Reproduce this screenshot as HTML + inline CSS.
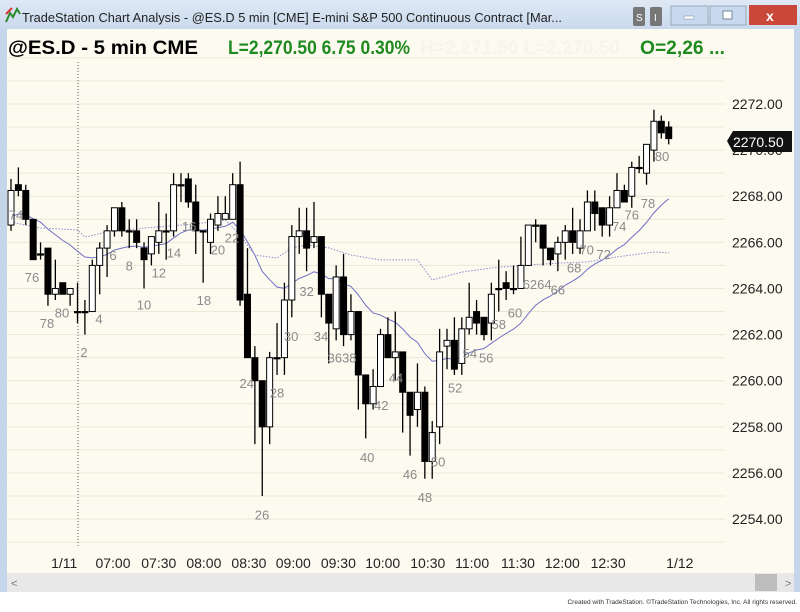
<!DOCTYPE html>
<html><head><meta charset="utf-8"><style>
body{margin:0;width:800px;height:607px;overflow:hidden;background:#fff;font-family:"Liberation Sans",sans-serif}
</style></head><body>
<svg id="c" width="800" height="607" viewBox="0 0 800 607" font-family="Liberation Sans, sans-serif">
<defs><linearGradient id="tb" x1="0" y1="0" x2="0" y2="1"><stop offset="0" stop-color="#dfe9f5"/><stop offset="1" stop-color="#c9d9ec"/></linearGradient></defs>
<rect x="0" y="0" width="800" height="607" fill="#c5d6ea"/>
<rect x="0" y="0" width="800" height="29" fill="url(#tb)"/>
<path d="M6 22 L10 13 L13 17 L17 9 L20 14" stroke="#2b8a2b" stroke-width="2" fill="none"/><path d="M6 14 L12 8" stroke="#d33" stroke-width="2"/>
<text x="22" y="22" font-size="13" fill="#222" textLength="540" lengthAdjust="spacingAndGlyphs">TradeStation Chart Analysis - @ES.D 5 min [CME] E-mini S&amp;P 500 Continuous Contract [Mar...</text>
<rect x="633" y="7" width="12" height="19" fill="#777" rx="2"/><text x="636" y="21" font-size="10" fill="#fff">S</text>
<rect x="650" y="7" width="12" height="19" fill="#777" rx="2"/><text x="654" y="21" font-size="10" fill="#fff">I</text>
<rect x="671" y="6" width="37" height="19" fill="#c7d9ee" stroke="#9ab"/><rect x="684" y="16" width="10" height="3" fill="#fff" stroke="#789" stroke-width=".5"/>
<rect x="710" y="6" width="36" height="19" fill="#c7d9ee" stroke="#9ab"/><rect x="723" y="11" width="9" height="8" fill="#fff" stroke="#789"/>
<rect x="749" y="5" width="48" height="20" fill="#c9483a"/><text x="766" y="21" font-size="14" font-weight="bold" fill="#fff">x</text>
<rect x="7" y="29" width="787" height="563" fill="#fdfbf0"/>
<text x="8" y="54" font-size="19" font-weight="bold" fill="#000" textLength="190" lengthAdjust="spacingAndGlyphs">@ES.D - 5 min  CME</text>
<text x="228" y="54" font-size="19" font-weight="bold" fill="#1f8a1f" textLength="182" lengthAdjust="spacingAndGlyphs">L=2,270.50  6.75  0.30%</text>
<text x="420" y="54" font-size="19" font-weight="bold" fill="#f7f5ea" textLength="200" lengthAdjust="spacingAndGlyphs">H=2,271.50  L=2,270.50</text>
<text x="640" y="54" font-size="19" font-weight="bold" fill="#1f8a1f" textLength="85" lengthAdjust="spacingAndGlyphs">O=2,26 ...</text>
<g id="grid"></g>
<line x1="78" y1="62" x2="78" y2="548" stroke="#555" stroke-dasharray="1,2"/>
<g id="yaxis"></g>
<g id="xaxis"></g>
<g id="ma"></g>
<g id="bars"></g>
<g id="lbls"></g>
<g><path d="M727 141 L733 131 H792 V152 H733 Z" fill="#111"/><text x="733" y="147" font-size="14" fill="#fff">2270.50</text></g>
<rect x="7" y="573" width="787" height="19" fill="#e8e8e8"/>
<text x="11" y="587" font-size="11" fill="#777">&lt;</text><rect x="755" y="574" width="22" height="17" fill="#bdbdbd"/><text x="785" y="587" font-size="11" fill="#777">&gt;</text>
<rect x="0" y="592" width="800" height="15" fill="#fff"/>
<text x="797" y="604" font-size="6.5" fill="#333" text-anchor="end">Created with TradeStation. ©TradeStation Technologies, Inc. All rights reserved.</text>
</svg>
<script>
const opens=[2266.75,2268.5,2268.25,2267,2265.5,2265.75,2263.75,2264.25,2263.75,2263,2263,2263,2265,2265.75,2266.5,2267.5,2266.5,2266.5,2265.75,2265.5,2266,2266.5,2266.5,2268.5,2268.75,2267.75,2266.5,2266,2266.75,2267,2267,2268.5,2263.75,2261,2260,2258,2261,2261,2263.5,2266.25,2266.5,2266,2266.25,2263.75,2262.25,2264.5,2262,2263,2260.25,2259,2259.75,2262,2261,2261.25,2259.5,2258.75,2259.5,2256.5,2258,2261.5,2261.75,2260.75,2262.25,2263,2262.75,2262.5,2264,2264.25,2264,2264,2265,2266.75,2266.75,2265.75,2265.5,2266,2266.5,2265.75,2266.5,2267.75,2267.5,2266.75,2267.5,2268.25,2268,2269.25,2269,2270,2271.25,2271];
const highs=[2268.75,2269.25,2268.5,2267,2266,2265.75,2265.25,2264.25,2264,2264.25,2263.5,2265.25,2266,2266.75,2267.5,2267.75,2267,2267,2266,2266.25,2267.75,2267.25,2269,2269,2269,2268.5,2266.5,2267.25,2268,2268,2269,2269.5,2265.75,2261.5,2260,2261.25,2262.5,2264.25,2266.75,2267.5,2267.5,2267.75,2266.25,2263.75,2265,2265.5,2263.75,2263,2260.25,2260.5,2262.25,2262.75,2263,2261.25,2259.5,2260.75,2259.75,2258.25,2262.25,2262.25,2262.75,2262.75,2264.25,2263.5,2262.75,2264.25,2265.25,2264.75,2265,2266.25,2266.75,2267,2266.75,2265.75,2266.25,2266.75,2267.5,2267,2268.25,2268.25,2267.5,2268,2269,2268.5,2269.5,2269.75,2270.25,2271.75,2271.5,2271.25];
const lows=[2266.5,2268,2266.75,2265.25,2265.25,2263.25,2263.5,2263.75,2263.25,2262.5,2262,2263,2263.75,2264.5,2266.25,2266.25,2265.75,2265.75,2264,2265,2265.5,2265.25,2266.25,2267.75,2267.5,2265.5,2264.25,2265.5,2266.5,2267,2267,2263.25,2261,2257.25,2255,2257.25,2260.25,2260.25,2262.75,2265.5,2264.75,2265.75,2262.75,2260.75,2261.75,2261.5,2261.75,2258.75,2257.5,2258.75,2259.75,2261,2260,2257.75,2256.75,2258,2255.75,2255.75,2257.25,2260.5,2260.25,2260.25,2262,2262,2261.75,2261.75,2263,2263.5,2263.75,2264,2265,2266,2265,2265,2264.75,2265.25,2265.5,2265.5,2266.5,2266.5,2266.25,2266.25,2267.5,2267.75,2267.5,2269,2268.5,2269.5,2270.5,2270.25];
const closes=[2268.25,2268.25,2267,2265.25,2265.5,2263.75,2264,2263.75,2264,2263,2263,2265,2265.75,2266.5,2267.5,2266.5,2266.5,2266,2265.25,2266.25,2266.5,2266.5,2268.5,2268.5,2267.75,2266.5,2266.5,2267,2267.25,2267.25,2268.5,2263.5,2261,2260,2258,2261,2261,2263.5,2266.25,2266.5,2265.75,2266.25,2263.75,2262.5,2264.5,2262,2263,2260.25,2259,2259.75,2262,2261,2261.25,2259.5,2258.5,2259.5,2256.5,2257.75,2261.25,2261.75,2260.5,2262.25,2262.75,2262.5,2262,2263.75,2264,2264,2264,2265,2266.75,2266.75,2265.75,2265.25,2266,2266.5,2266,2266.5,2267.75,2267.25,2266.75,2267.5,2268.25,2267.75,2269.25,2269.25,2270.25,2271.25,2270.75,2270.5];
const dotIdx=[0,4,9,10,13,18,25,29,31,33,36,38,40,43,46,50,55,57,61,65,70,74,78,82,87,89];
const dotVal=[2266.88,2266.62,2266.54,2266.23,2266.45,2266.62,2266.8,2266.97,2266.32,2265.45,2265.32,2265.76,2265.89,2265.76,2265.45,2265.24,2265.24,2264.37,2264.71,2264.89,2265.02,2265.1,2265.15,2265.37,2265.58,2265.54];
const priceTicks=[2272,2270,2268,2266,2264,2262,2260,2258,2256,2254];
const timeLabels=["1/11","07:00","07:30","08:00","08:30","09:00","09:30","10:00","10:30","11:00","11:30","12:00","12:30","1/12"];
const timeIdx=[7.2,13.8,20,26.1,32.2,38.2,44.3,50.3,56.4,62.4,68.6,74.6,80.8,90.5];
const lblText=["74","76","78","80","2","4","6","8","10","12","14","16","18","20","22","24","26","28","30","32","34","3638","40","42","44","46","48","50","52","54","56","58","60","6264","66","68","70","72","74","76","78","80"];
const lblIdx=[0.68,2.84,4.87,6.9,9.88,11.9,13.8,16,18,20,22.05,24.1,26.1,28,29.9,31.9,33.97,36,37.9,40,41.95,44.8,48.2,50.1,52.1,54,56,57.8,60.1,62.1,64.3,66,68.2,71.2,74,76.2,77.9,80.2,82.3,84,86.2,88.1];
const lblPrice=[2267.2,2264.5,2262.5,2262.95,2261.25,2262.7,2265.45,2265,2263.3,2264.7,2265.55,2266.7,2263.5,2265.7,2266.2,2259.9,2254.2,2259.5,2261.95,2263.9,2261.95,2261,2256.7,2258.95,2260.15,2255.95,2254.95,2256.5,2259.7,2261.2,2261,2262.45,2262.95,2264.2,2263.95,2264.9,2265.7,2265.5,2266.7,2267.2,2267.7,2269.75];

const NS="http://www.w3.org/2000/svg";
const y=p=>104+(2272-p)*23.06;
const x=i=>11+i*7.39;
function mk(tag,attrs,parent){const e=document.createElementNS(NS,tag);for(const k in attrs)e.setAttribute(k,attrs[k]);parent.appendChild(e);return e;}
const G=id=>document.getElementById(id);
for(let p=2253;p<=2274;p++){
  const l=mk('line',{x1:7,x2:725,y1:y(p),y2:y(p),stroke:'#ece8d6','stroke-width':1},G('grid'));
  
  
}
priceTicks.forEach(p=>{
  const t=mk('text',{x:732,y:y(p)+5,'font-size':14,fill:'#222'},G('yaxis'));
  t.textContent=p.toFixed(2);
  
  
});
timeLabels.forEach((s,k)=>{
  const t=mk('text',{x:x(timeIdx[k]),y:568,'font-size':14,fill:'#222','text-anchor':'middle'},G('xaxis'));
  t.textContent=s;
  
  
});
let e=2267.0,ema=[];closes.forEach(c=>{e=e+(c-e)*2/21;ema.push(e);});
const sl=mk('polyline',{points:ema.map((v,i)=>x(i)+','+y(v)).join(' '),fill:'none',stroke:'#6f6fc4','stroke-width':1},G('ma'));


const dl=mk('polyline',{points:dotIdx.map((v,i)=>x(v)+','+y(dotVal[i])).join(' '),fill:'none',stroke:'#8c8cd0','stroke-width':1,'stroke-dasharray':'1.5,1.5'},G('ma'));


opens.forEach((o,i)=>{
  const c=closes[i],cx=x(i);
  const w=mk('line',{x1:cx,x2:cx,y1:y(highs[i]),y2:y(lows[i]),stroke:'#000','stroke-width':1.3},G('bars'));
  
  
  const top=y(Math.max(o,c)),bot=y(Math.min(o,c));
  const b=mk('rect',{x:cx-3,y:top,width:6,height:Math.max(bot-top,1.2),fill:c>o?'#fff':'#000',stroke:'#000','stroke-width':1},G('bars'));
  
  
});
lblText.forEach((s,k)=>{
  const t=mk('text',{x:x(lblIdx[k]),y:y(lblPrice[k])+5,'font-size':13,fill:'#8a8a8a','text-anchor':'middle'},G('lbls'));
  t.textContent=s;
  
  
});
</script>
</body></html>
